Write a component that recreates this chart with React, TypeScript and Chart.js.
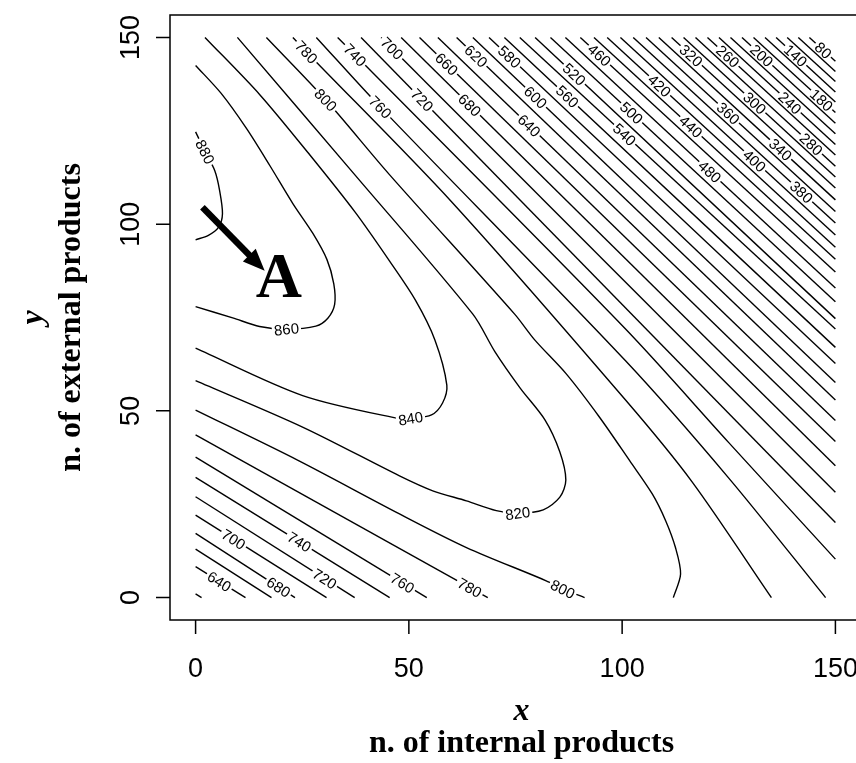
import { useEffect, useRef } from 'react';
import { Chart, registerables } from 'chart.js';

Chart.register(...registerables);

type Pt = [number, number];

// ---------- axes ----------
const xTickValues = [0, 50, 100, 150];
const yTickValues = [0, 50, 100, 150];
const xTitleTop = 'x';
const xTitleBottom = 'n. of internal products';
const yTitleTop = 'y';
const yTitleBottom = 'n. of external products';

// ---------- straight contours of the upper right (top edge y=150 -> right edge x=150) ----------
const upperLevels = [720, 700, 680, 660, 640, 620, 600, 580, 560, 540, 520, 500, 480, 460, 440, 420, 400, 380, 360, 340, 320, 300, 280, 260, 240, 220, 200, 180, 160, 140, 120, 100, 80];
const upperTopX = [38.8, 43.5, 48.2, 52.5, 56.8, 61.2, 65.0, 68.8, 72.4, 76.0, 79.6, 83.2, 86.7, 90.2, 93.4, 96.5, 99.6, 102.6, 105.6, 108.6, 111.6, 114.4, 117.2, 120.0, 122.7, 125.4, 128.1, 130.8, 133.5, 136.1, 138.7, 141.3, 143.9];
const upperRightY = [20.1, 28.2, 35.3, 41.8, 47.4, 52.9, 57.6, 62.7, 67.0, 71.9, 74.7, 79.2, 82.9, 87.2, 90.6, 93.8, 97.1, 100.3, 103.4, 106.5, 109.7, 112.6, 115.5, 118.5, 121.3, 124.2, 127.0, 129.9, 132.7, 135.4, 138.2, 140.9, 143.6];

// ---------- straight contours of the lower left (left edge x=0 -> bottom edge y=0) ----------
const lowerLevels = [620, 640, 660, 680, 700, 720, 740, 760, 780];
const lowerLeftY = [1.0, 8.3, 13.0, 17.2, 22.1, 27.0, 32.2, 37.6, 43.6];
const lowerBottomX = [1.4, 11.7, 17.8, 23.3, 30.7, 37.3, 45.5, 54.2, 68.5];

// ---------- curved contours ----------
const curve880: Pt[] = [[0, 124.7], [2.2, 119.5], [4.5, 114.3], [5.6, 109.2], [6.3, 102.8], [5.4, 99.2], [3.0, 97.0], [0, 95.8]];
const curve860: Pt[] = [[0, 142.5], [6, 135], [12, 125.5], [17.5, 115.5], [22.8, 105.5], [27.5, 97.5], [30.8, 90.5], [32.4, 84], [32.6, 78.5], [31, 74.8], [28.2, 72.7], [21.3, 71.9], [15, 72.6], [8.7, 74.9], [0, 77.9]];
const curve840: Pt[] = [[2.2, 150], [15.1, 134.6], [26.8, 118.5], [37.4, 103.2], [45.6, 89.9], [51.5, 79.7], [56.1, 69.0], [58.9, 56.9], [57.9, 52.1], [55.3, 48.9], [50.4, 48.0], [47.8, 47.9], [25.1, 54.1], [0, 66.8]];
const curve820: Pt[] = [[9.8, 150], [37.5, 113], [65, 75.9], [70.2, 65.8], [76.1, 56.1], [81.9, 47.6], [85.4, 39.0], [86.8, 31.5], [85.4, 26.9], [81.5, 23.5], [75.5, 22.6], [70.5, 23.3], [63.5, 25.9], [55.6, 28.6], [47.8, 32.6], [25.2, 45.6], [0, 58.1]];
const curve800upper: Pt[] = [[16.6, 150], [30.5, 133.3], [45.5, 113.2], [74.8, 75.9], [79.5, 69], [86.9, 59.9], [94.7, 48.3], [101.8, 36.6], [107.1, 27.7], [110.2, 20.6], [112.5, 13.4], [113.7, 6.3], [112, 0]];
const curve800lower: Pt[] = [[0, 50.2], [23.9, 36.8], [47.8, 22.4], [63.5, 13.4], [82.2, 4.5], [86.1, 2.3], [91.2, 0]];
const curve780upper: Pt[] = [[22.8, 150], [26, 146.1], [60, 106], [100.8, 52.9], [116.4, 31], [135, 0]];
const curve760upper: Pt[] = [[28.3, 150], [43.1, 131.6], [100.8, 63.4], [125, 32], [147.7, 0]];
const curve740upper: Pt[] = [[33.3, 150], [37.3, 145.4], [100.8, 71.9], [125, 41.5], [150, 10.3]];

// ---------- contour labels: level, x, y ----------
const contourLabels: [number, number, number][] = [
  [880, 2.1, 119.3], [860, 21.3, 71.9], [840, 50.4, 48.1], [820, 75.5, 22.8],
  [800, 30.5, 133.3], [800, 86.1, 2.3], [780, 26.0, 146.1], [780, 64.2, 2.5],
  [760, 43.1, 131.1], [760, 48.5, 3.9], [740, 37.3, 145.2], [740, 24.4, 15.1],
  [720, 53.2, 133.3], [720, 30.2, 4.9], [700, 46.0, 147.0], [700, 8.9, 15.6],
  [680, 64.2, 131.8], [680, 19.5, 2.9], [660, 58.8, 142.8], [640, 78.3, 126.5],
  [640, 5.6, 4.4], [620, 65.6, 144.8], [600, 79.4, 133.6], [580, 73.6, 144.8],
  [560, 87.2, 134.2], [540, 100.4, 123.8], [520, 88.9, 140.3], [500, 102.2, 129.8],
  [480, 120.6, 114.1], [460, 94.7, 145.3], [440, 115.7, 125.6], [420, 108.3, 136.5],
  [400, 130.4, 116.2], [380, 142.7, 109.4], [360, 124.9, 129.7], [340, 137.3, 120.2],
  [320, 116.3, 145.3], [300, 131.2, 132.6], [280, 144.5, 121.6], [260, 124.7, 144.8],
  [240, 139.3, 132.4], [200, 132.3, 144.6], [180, 147.2, 133.8], [140, 140.4, 144.8],
  [80, 147.1, 146.5],
];

// ---------- annotation ----------
const arrowFrom: Pt = [1.6, 104.5];
const arrowTo: Pt = [16.2, 87.5];
const letterText = 'A';
const letterAt: Pt = [19.5, 86.5];

type Line = { level: number; points: Pt[]; curved: boolean };

const contours: Line[] = [
  { level: 880, points: curve880, curved: true },
  { level: 860, points: curve860, curved: true },
  { level: 840, points: curve840, curved: true },
  { level: 820, points: curve820, curved: true },
  { level: 800, points: curve800upper, curved: true },
  { level: 800, points: curve800lower, curved: true },
  { level: 780, points: curve780upper, curved: true },
  { level: 760, points: curve760upper, curved: true },
  { level: 740, points: curve740upper, curved: true },
  ...upperLevels.map((lv, i) => ({ level: lv, points: [[upperTopX[i], 150], [150, upperRightY[i]]] as Pt[], curved: false })),
  ...lowerLevels.map((lv, i) => ({ level: lv, points: [[0, lowerLeftY[i]], [lowerBottomX[i], 0]] as Pt[], curved: false })),
];

const LABEL_SIZE = 15;
const LABEL_FONT = `${LABEL_SIZE}px "Liberation Sans", Arial, sans-serif`;
const TICK_FONT = '27px "Liberation Sans", Arial, sans-serif';
const TITLE_ITALIC = 'bold italic 32px "Liberation Serif", "Times New Roman", serif';
const TITLE_BOLD = 'bold 32px "Liberation Serif", "Times New Roman", serif';
const LETTER_FONT = 'bold 64px "Liberation Serif", "Times New Roman", serif';

type Box = { level: number; text: string; cx: number; cy: number; ang: number; w: number; h: number };

function computeBoxes(chart: any): Box[] {
  const xs = chart.scales.x;
  const ys = chart.scales.y;
  const ctx: CanvasRenderingContext2D = chart.ctx;
  ctx.save();
  ctx.font = LABEL_FONT;
  const out: Box[] = [];
  for (const [level, lx, ly] of contourLabels) {
    const px = xs.getPixelForValue(lx);
    const py = ys.getPixelForValue(ly);
    let best: { d: number; qx: number; qy: number; ang: number } | null = null;
    for (const line of contours) {
      if (line.level !== level) continue;
      const pts = line.points.map(([x, y]) => [xs.getPixelForValue(x), ys.getPixelForValue(y)]);
      for (let i = 0; i < pts.length - 1; i++) {
        const [ax, ay] = pts[i];
        const [bx, by] = pts[i + 1];
        const dx = bx - ax;
        const dy = by - ay;
        const len2 = dx * dx + dy * dy || 1;
        let t = ((px - ax) * dx + (py - ay) * dy) / len2;
        t = Math.max(0, Math.min(1, t));
        const qx = ax + t * dx;
        const qy = ay + t * dy;
        const d = (qx - px) ** 2 + (qy - py) ** 2;
        if (!best || d < best.d) best = { d, qx, qy, ang: Math.atan2(dy, dx) };
      }
    }
    if (!best) continue;
    let ang = best.ang;
    if (ang > Math.PI / 2) ang -= Math.PI;
    if (ang < -Math.PI / 2) ang += Math.PI;
    const text = String(level);
    const w = ctx.measureText(text).width + 4;
    out.push({ level, text, cx: best.qx, cy: best.qy, ang, w, h: 12 });
  }
  ctx.restore();
  return out;
}

const contourPlugin = {
  id: 'contourDecor',
  beforeDatasetsDraw(chart: any) {
    chart.$boxes = computeBoxes(chart);
  },
  beforeDatasetDraw(chart: any, args: any) {
    const ctx: CanvasRenderingContext2D = chart.ctx;
    const ds = chart.data.datasets[args.index];
    const boxes: Box[] = (chart.$boxes || []).filter((b: Box) => b.level === ds.level);
    ctx.save();
    ctx.beginPath();
    ctx.rect(0, 0, chart.width, chart.height);
    for (const b of boxes) {
      const c = Math.cos(b.ang);
      const s = Math.sin(b.ang);
      const hw = b.w / 2;
      const hh = b.h / 2;
      const corners = [[-hw, -hh], [hw, -hh], [hw, hh], [-hw, hh]].map(([u, v]) => [b.cx + u * c - v * s, b.cy + u * s + v * c]);
      ctx.moveTo(corners[0][0], corners[0][1]);
      for (let i = 1; i < 4; i++) ctx.lineTo(corners[i][0], corners[i][1]);
      ctx.closePath();
    }
    ctx.clip('evenodd');
  },
  afterDatasetDraw(chart: any) {
    chart.ctx.restore();
  },
  afterDatasetsDraw(chart: any) {
    const ctx: CanvasRenderingContext2D = chart.ctx;
    const xs = chart.scales.x;
    const ys = chart.scales.y;
    const area = chart.chartArea;

    // contour labels
    ctx.save();
    ctx.fillStyle = '#000';
    ctx.font = LABEL_FONT;
    ctx.textAlign = 'center';
    ctx.textBaseline = 'alphabetic';
    for (const b of (chart.$boxes || []) as Box[]) {
      ctx.save();
      ctx.translate(b.cx, b.cy);
      ctx.rotate(b.ang);
      ctx.fillText(b.text, 0, LABEL_SIZE * 0.36);
      ctx.restore();
    }
    ctx.restore();

    // frame
    ctx.save();
    ctx.strokeStyle = '#000';
    ctx.lineWidth = 1.5;
    ctx.strokeRect(area.left, area.top, area.right - area.left, area.bottom - area.top);

    // ticks
    ctx.beginPath();
    for (const v of xTickValues) {
      const p = xs.getPixelForValue(v);
      ctx.moveTo(p, area.bottom);
      ctx.lineTo(p, area.bottom + 14);
    }
    for (const v of yTickValues) {
      const p = ys.getPixelForValue(v);
      ctx.moveTo(area.left, p);
      ctx.lineTo(area.left - 14, p);
    }
    ctx.stroke();

    // tick labels
    ctx.fillStyle = '#000';
    ctx.font = TICK_FONT;
    ctx.textAlign = 'center';
    ctx.textBaseline = 'alphabetic';
    for (const v of xTickValues) {
      ctx.fillText(String(v), xs.getPixelForValue(v), 667 + 27 * 0.36);
    }
    for (const v of yTickValues) {
      ctx.save();
      ctx.translate(129, ys.getPixelForValue(v));
      ctx.rotate(-Math.PI / 2);
      ctx.fillText(String(v), 0, 27 * 0.36);
      ctx.restore();
    }

    // axis titles
    const cxTitle = (area.left + area.right) / 2 + 6;
    ctx.font = TITLE_ITALIC;
    ctx.fillText(xTitleTop, cxTitle, 720);
    ctx.font = TITLE_BOLD;
    ctx.fillText(xTitleBottom, cxTitle, 752);
    const cyTitle = (area.top + area.bottom) / 2;
    ctx.save();
    ctx.translate(42, cyTitle);
    ctx.rotate(-Math.PI / 2);
    ctx.font = TITLE_ITALIC;
    ctx.fillText(yTitleTop, 0, 0);
    ctx.restore();
    ctx.save();
    ctx.translate(80, cyTitle);
    ctx.rotate(-Math.PI / 2);
    ctx.font = TITLE_BOLD;
    ctx.fillText(yTitleBottom, 0, 0);
    ctx.restore();

    // arrow
    const ax = xs.getPixelForValue(arrowFrom[0]);
    const ay = ys.getPixelForValue(arrowFrom[1]);
    const bx = xs.getPixelForValue(arrowTo[0]);
    const by = ys.getPixelForValue(arrowTo[1]);
    const ang = Math.atan2(by - ay, bx - ax);
    const headLen = 22;
    const headHalf = 9;
    const baseX = bx - headLen * Math.cos(ang);
    const baseY = by - headLen * Math.sin(ang);
    ctx.lineWidth = 6.5;
    ctx.lineCap = 'butt';
    ctx.beginPath();
    ctx.moveTo(ax, ay);
    ctx.lineTo(baseX + 2 * Math.cos(ang), baseY + 2 * Math.sin(ang));
    ctx.stroke();
    ctx.beginPath();
    ctx.moveTo(bx, by);
    ctx.lineTo(baseX + headHalf * Math.sin(ang), baseY - headHalf * Math.cos(ang));
    ctx.lineTo(baseX - headHalf * Math.sin(ang), baseY + headHalf * Math.cos(ang));
    ctx.closePath();
    ctx.fill();

    // letter
    ctx.font = LETTER_FONT;
    ctx.textAlign = 'center';
    ctx.textBaseline = 'alphabetic';
    const lx = xs.getPixelForValue(letterAt[0]);
    const ly = ys.getPixelForValue(letterAt[1]);
    ctx.fillText(letterText, lx, ly + 22);
    ctx.restore();
  },
};

export default function App() {
  const ref = useRef<HTMLCanvasElement>(null);
  useEffect(() => {
    const canvas = ref.current;
    if (!canvas) return;
    const chart = new Chart(canvas, {
      type: 'scatter',
      data: {
        datasets: contours.map((c) => ({
          label: String(c.level),
          level: c.level,
          data: c.points.map(([x, y]) => ({ x, y })),
          showLine: true,
          borderColor: '#000',
          borderWidth: 1.4,
          pointRadius: 0,
          pointHoverRadius: 0,
          fill: false,
          tension: c.curved ? 0.3 : 0,
        })) as any,
      },
      options: {
        animation: false,
        responsive: false,
        maintainAspectRatio: false,
        events: [],
        layout: { padding: { left: 170, top: 15, right: 9, bottom: 143 } },
        plugins: { legend: { display: false }, tooltip: { enabled: false } },
        scales: {
          x: { type: 'linear', min: -6, max: 156, display: false },
          y: { type: 'linear', min: -6, max: 156, display: false },
        },
      },
      plugins: [contourPlugin],
    });
    return () => chart.destroy();
  }, []);
  return (
    <div style={{ position: 'absolute', left: 0, top: 0, width: 856, height: 763, overflow: 'hidden', background: '#fff' }}>
      <canvas ref={ref} width={870} height={763} style={{ display: 'block', width: 870, height: 763 }} />
    </div>
  );
}
